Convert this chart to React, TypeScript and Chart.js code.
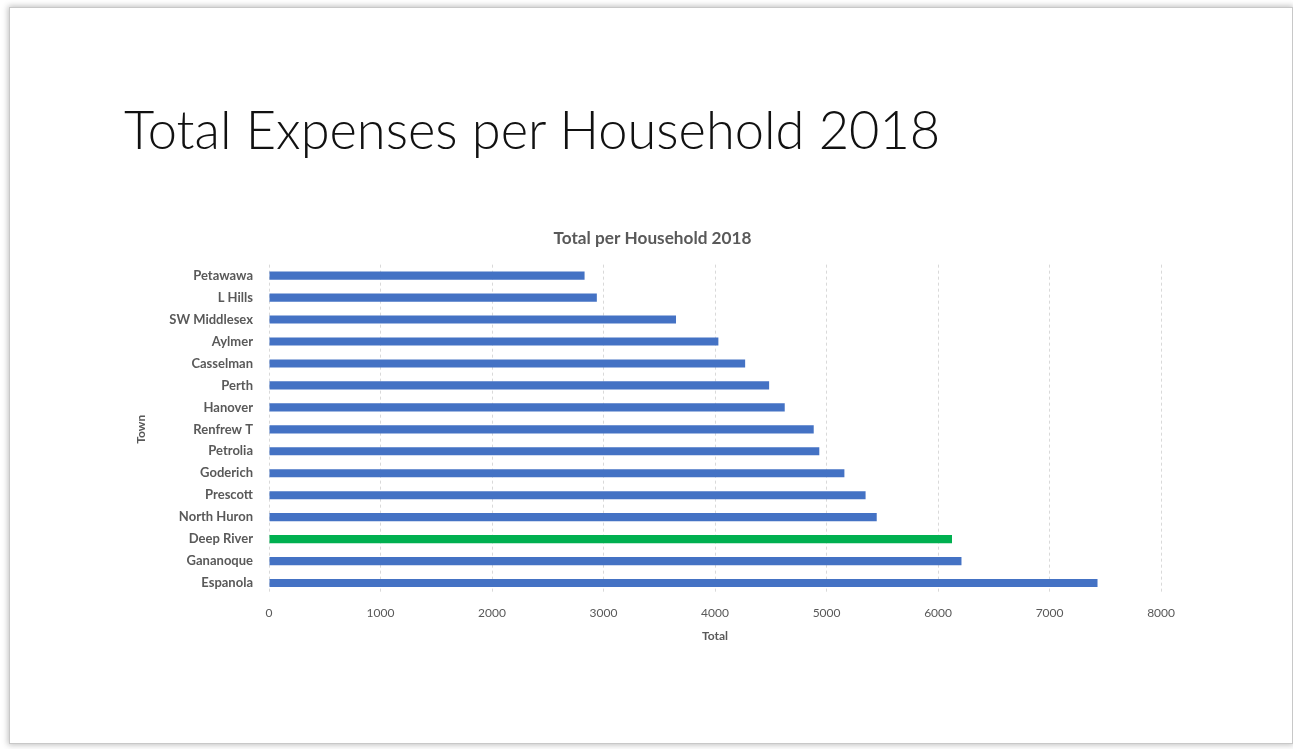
import React, { useEffect, useRef } from "react";
import { Chart, registerables } from "chart.js";

Chart.register(...registerables);

const towns = [
  "Petawawa",
  "L Hills",
  "SW Middlesex",
  "Aylmer",
  "Casselman",
  "Perth",
  "Hanover",
  "Renfrew T",
  "Petrolia",
  "Goderich",
  "Prescott",
  "North Huron",
  "Deep River",
  "Gananoque",
  "Espanola",
];

const totals = [2830, 2940, 3650, 4030, 4270, 4485, 4625, 4885, 4935, 5160, 5350, 5450, 6125, 6210, 7430];

const highlighted = ["Deep River"];

const xTicks = [0, 1000, 2000, 3000, 4000, 5000, 6000, 7000, 8000];

const slideTitle = "Total Expenses per Household 2018";
const chartTitle = "Total per Household 2018";
const xAxisTitle = "Total";
const yAxisTitle = "Town";

const BLUE = "#4472C4";
const GREEN = "#00B050";
const TEXT = "#595959";
const FONT = "Lato, 'Open Sans', sans-serif";

export default function App() {
  const canvasRef = useRef<HTMLCanvasElement | null>(null);

  useEffect(() => {
    const canvas = canvasRef.current;
    if (!canvas) return;
    const chart = new Chart(canvas, {
      type: "bar",
      data: {
        labels: towns,
        datasets: [
          {
            label: xAxisTitle,
            data: totals,
            backgroundColor: towns.map((t) => (highlighted.includes(t) ? GREEN : BLUE)),
            barPercentage: 0.37,
            categoryPercentage: 1,
          },
        ],
      },
      options: {
        indexAxis: "y",
        animation: false,
        responsive: false,
        maintainAspectRatio: false,
        layout: { padding: { left: 0, right: 0, top: 0, bottom: 13 } },
        plugins: {
          legend: { display: false },
          tooltip: { enabled: false },
          title: {
            display: true,
            text: chartTitle,
            color: TEXT,
            font: { family: FONT, size: 17.2, weight: "bold" },
            padding: { top: 8, bottom: 16 },
          },
        },
        scales: {
          x: {
            type: "linear",
            min: xTicks[0],
            max: xTicks[xTicks.length - 1],
            afterBuildTicks: (scale: any) => {
              scale.ticks = xTicks.map((v) => ({ value: v }));
            },
            afterFit: (scale: any) => {
              scale.height = 53;
            },
            ticks: {
              color: TEXT,
              font: { family: FONT, size: 12 },
              padding: 12,
              callback: (v: any) => String(v),
            },
            grid: {
              color: "#D9D9D9",
              drawTicks: false,
            },
            border: { display: false, dash: [3, 3] },
            title: {
              display: true,
              text: xAxisTitle,
              color: TEXT,
              font: { family: FONT, size: 12, weight: "bold" },
              padding: { top: 4, bottom: 4 },
            },
          },
          y: {
            type: "category",
            afterFit: (scale: any) => {
              scale.width = 151;
            },
            ticks: {
              color: TEXT,
              font: { family: FONT, size: 13, weight: "bold" },
              padding: 16,
            },
            grid: { display: false, drawTicks: false },
            border: { display: false },
            title: {
              display: true,
              text: yAxisTitle,
              color: TEXT,
              font: { family: FONT, size: 12, weight: "bold" },
              padding: { top: 16, bottom: 4 },
            },
          },
        },
      },
    });
    return () => chart.destroy();
  }, []);

  return (
    <div
      style={{
        position: "fixed",
        left: 0,
        top: 0,
        width: 1293,
        height: 749,
        background: "#ffffff",
        overflow: "hidden",
      }}
    >
      <div
        style={{
          position: "absolute",
          left: 9,
          top: 7,
          width: 1282,
          height: 735,
          background: "#ffffff",
          border: "1px solid #c8c8c8",
          boxShadow: "0 0 6px 1px rgba(0,0,0,0.25)",
        }}
      />
      <div
        style={{
          position: "absolute",
          left: 124,
          top: 97,
          fontFamily: FONT,
          fontWeight: 300,
          fontSize: 52.4,
          lineHeight: "64px",
          color: "#111111",
          whiteSpace: "nowrap",
        }}
      >
        {slideTitle}
      </div>
      <canvas
        ref={canvasRef}
        width={1069}
        height={440}
        style={{ position: "absolute", left: 118, top: 220, width: 1069, height: 440 }}
      />
    </div>
  );
}
